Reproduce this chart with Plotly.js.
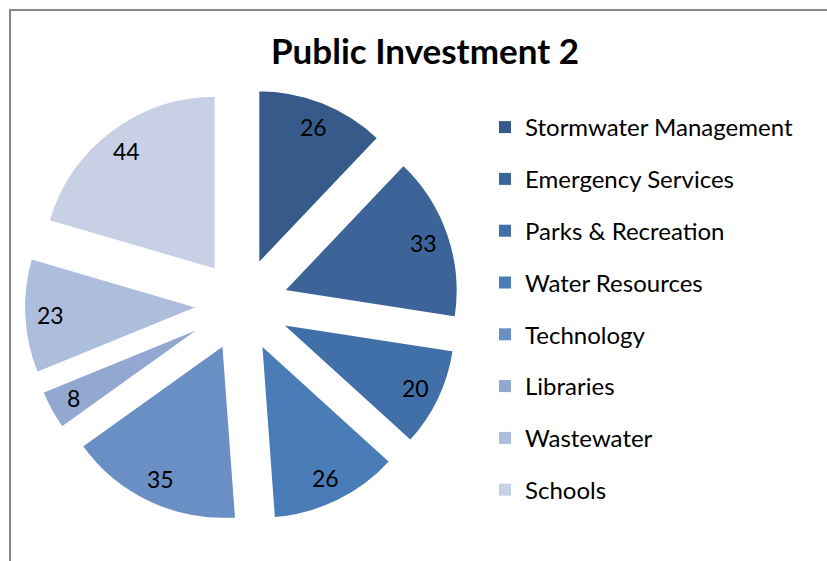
<!DOCTYPE html>
<html><head><meta charset="utf-8">
<script src="https://cdn.plot.ly/plotly-3.0.1.min.js"></script>
<style>html,body{margin:0;padding:0;background:#fff;}#chart{width:827px;height:561px;}</style>
</head><body><div id="chart"></div>
<script>
const categories = ["Stormwater Management","Emergency Services","Parks & Recreation","Water Resources","Technology","Libraries","Wastewater","Schools"];
const values = [26,33,20,26,35,8,23,44];
const colors = ["#365b8a","#3c6499","#416fa8","#4a7cb8","#6a8fc5","#93a8d1","#adbedd","#c7d0e5"];

const W = 827, H = 561;
const cx = 242, cy = 305, half = 218;
const pullFrac = 0.253;
const labelFrac = 0.85;

const pie = {
  type: 'pie',
  labels: categories,
  values: values,
  sort: false,
  direction: 'clockwise',
  rotation: 0,
  pull: values.map(() => pullFrac),
  marker: {colors: colors, line: {color: '#ffffff', width: 2}},
  textinfo: 'none',
  hoverinfo: 'label+value',
  showlegend: false,
  domain: {x: [(cx - half) / W, (cx + half) / W], y: [(H - cy - half) / H, (H - cy + half) / H]}
};

// value labels placed along each slice's mid-angle (derived from the data)
const total = values.reduce((a, b) => a + b, 0);
const R = half / (1 + pullFrac);
let cum = 0;
const labelAnns = values.map(v => {
  const mid = (cum + v / 2) / total * 2 * Math.PI;
  cum += v;
  const dx = Math.sin(mid), dy = -Math.cos(mid);
  const px = cx + dx * (pullFrac * R + labelFrac * R);
  const py = cy + dy * (pullFrac * R + labelFrac * R);
  return {xref: 'paper', yref: 'paper', x: px / W, y: 1 - py / H, text: String(v), showarrow: false,
          xanchor: 'center', yanchor: 'middle', font: {family: 'Lato, sans-serif', size: 23, color: '#000'}};
});

const legendTraces = categories.map((c, i) => ({
  type: 'scatter', mode: 'markers', x: [null], y: [null], name: c,
  legendgroup: 'g' + i,
  marker: {symbol: 'square', size: 12, color: colors[i]},
  showlegend: true, hoverinfo: 'skip'
}));

const layout = {
  width: W, height: H,
  margin: {l: 0, r: 0, t: 0, b: 0},
  paper_bgcolor: '#fff', plot_bgcolor: '#fff',
  title: {text: '<b>Public Investment 2</b>', font: {family: 'Lato, sans-serif', size: 35, color: '#000'}, x: 425 / W, xanchor: 'center', y: 1 - 52 / H, yanchor: 'middle'},
  xaxis: {visible: false}, yaxis: {visible: false},
  legend: {x: 485 / W, xanchor: 'left', y: 1 - 105 / H, yanchor: 'top', traceorder: 'grouped', tracegroupgap: 17.6,
           font: {family: 'Lato, sans-serif', size: 24, color: '#000'}, bgcolor: 'rgba(0,0,0,0)', itemsizing: 'trace'},
  annotations: labelAnns,
  shapes: [{type: 'rect', xref: 'paper', yref: 'paper', x0: 10 / W, x1: 1.05, y0: -0.05, y1: 1 - 10 / H, line: {color: '#888', width: 2}, layer: 'below'}]
};

Plotly.newPlot('chart', [pie].concat(legendTraces), layout, {displayModeBar: false, staticPlot: true});
</script></body></html>
